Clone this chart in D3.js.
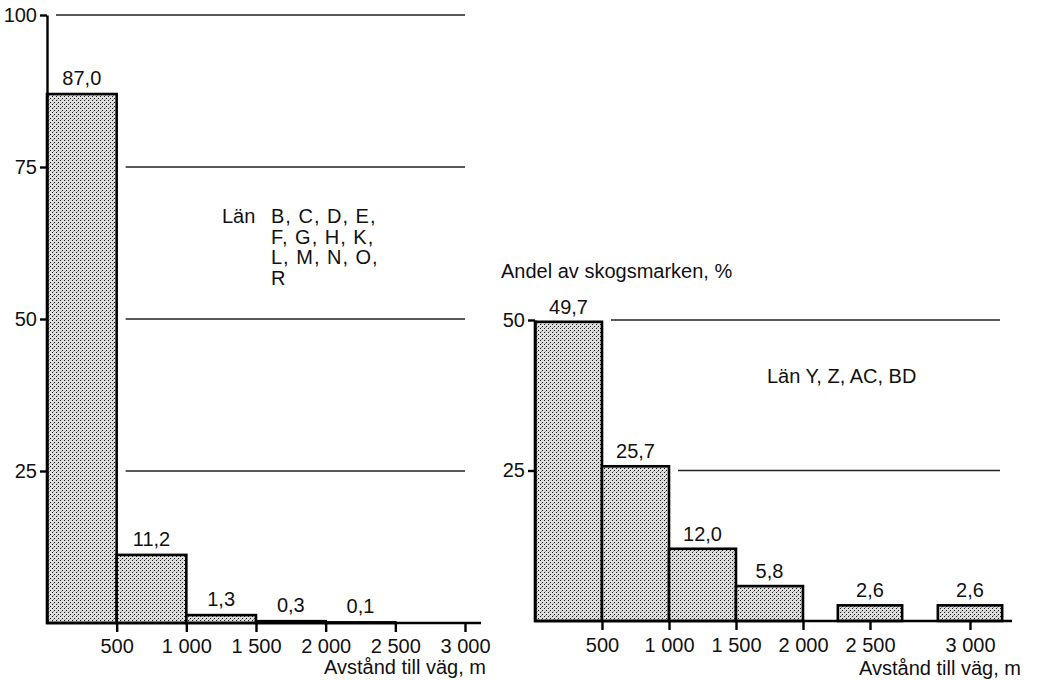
<!DOCTYPE html>
<html><head><meta charset="utf-8">
<script src="https://cdn.jsdelivr.net/npm/d3@7"></script>
<style>
body{margin:0;background:#fff}
text{font-family:"Liberation Sans",Arial,Helvetica,sans-serif;font-size:20px;fill:#111}
</style>
</head><body>
<svg id="c" width="1049" height="680"></svg>
<script>
// ---------- data ----------
const leftBinEnds   = [500, 1000, 1500, 2000, 2500];
const leftValues    = [87.0, 11.2, 1.3, 0.3, 0.1];
const leftTicksX    = [500, 1000, 1500, 2000, 2500, 3000];
const leftTicksY    = [25, 50, 75, 100];
const leftNoteHead  = "Län";
const leftNoteLines = ["B, C, D, E,", "F, G, H, K,", "L, M, N, O,", "R"];

const rightCategories = [500, 1000, 1500, 2000, 2500, 3000];
const rightValues     = [49.7, 25.7, 12.0, 5.8, 2.6, 2.6];
const rightCentered   = [false, false, false, false, true, true];
const rightTicksX     = [500, 1000, 1500, 2000, 2500, 3000];
const rightTicksY     = [25, 50];
const rightNote       = "Län Y, Z, AC, BD";

const yTitle = "Andel av skogsmarken, %";
const xTitle = "Avstånd till väg, m";

// ---------- setup ----------
const svg = d3.select("#c");
const loc = d3.formatLocale({decimal: ",", thousands: " ", grouping: [3], currency: ["", ""]});
const fmtVal = loc.format(".1f");
const fmtTick = loc.format(",d");
const FS = 20;

const defs = svg.append("defs");
const pat = defs.append("pattern").attr("id", "stip")
  .attr("width", 4).attr("height", 4).attr("patternUnits", "userSpaceOnUse");
pat.append("rect").attr("width", 4).attr("height", 4).attr("fill", "#dedede");
pat.append("rect").attr("x", 0).attr("y", 0).attr("width", 1).attr("height", 1).attr("fill", "#1a1a1a");
pat.append("rect").attr("x", 2).attr("y", 2).attr("width", 1).attr("height", 1).attr("fill", "#1a1a1a");
pat.append("rect").attr("x", 1).attr("y", 3).attr("width", 1).attr("height", 1).attr("fill", "#9a9a9a");

function styleAxis(g) {
  g.selectAll("line").attr("stroke", "#000").attr("stroke-width", 2.4);
  g.selectAll("path").attr("stroke", "#000").attr("stroke-width", 2.4);
  g.selectAll("text").attr("font-size", FS).attr("fill", "#111")
    .attr("font-family", '"Liberation Sans",Arial,sans-serif');
}

// ---------- left chart ----------
const xL = d3.scaleLinear().domain([0, 3000]).range([47, 465]);
const yL = d3.scaleLinear().domain([0, 100]).range([623, 15]);
const gL = svg.append("g");

leftTicksY.forEach(v => {
  let idx = -1;
  leftValues.forEach((d, i) => { if (d >= v - 1) idx = i; });
  const x0 = idx < 0 ? xL(0) + 9 : xL(leftBinEnds[idx]) + 9;
  gL.append("line").attr("x1", x0).attr("x2", xL(3000))
    .attr("y1", yL(v)).attr("y2", yL(v))
    .attr("stroke", "#222").attr("stroke-width", 1.3);
});

gL.selectAll("rect.bar").data(leftValues).join("rect").attr("class", "bar")
  .attr("x", (d, i) => xL(leftBinEnds[i] - 500))
  .attr("width", (d, i) => xL(leftBinEnds[i]) - xL(leftBinEnds[i] - 500))
  .attr("y", d => yL(d))
  .attr("height", d => yL(0) - yL(d))
  .attr("fill", "url(#stip)").attr("stroke", "#000").attr("stroke-width", 2.6);

gL.selectAll("text.val").data(leftValues).join("text").attr("class", "val")
  .attr("x", (d, i) => (xL(leftBinEnds[i] - 500) + xL(leftBinEnds[i])) / 2)
  .attr("y", d => yL(d) - 9)
  .attr("text-anchor", "middle").text(d => fmtVal(d));

const axL = gL.append("g").attr("transform", `translate(${xL(0)},0)`)
  .call(d3.axisLeft(yL).tickValues(leftTicksY).tickSize(7).tickSizeOuter(0).tickPadding(3));
styleAxis(axL);

const axLB = gL.append("g").attr("transform", `translate(0,${yL(0)})`)
  .call(d3.axisBottom(xL).tickValues(leftTicksX).tickSize(9).tickPadding(7).tickFormat(fmtTick));
axLB.select(".domain").remove();
styleAxis(axLB);
gL.append("line").attr("x1", xL(0) - 1).attr("x2", xL(3000) + 16)
  .attr("y1", yL(0)).attr("y2", yL(0)).attr("stroke", "#000").attr("stroke-width", 2.6);

gL.append("text").attr("x", 486).attr("y", 674).attr("text-anchor", "end").text(xTitle);

gL.append("text").attr("x", 222).attr("y", 223).attr("font-size", 18).text(leftNoteHead);
gL.selectAll("text.note").data(leftNoteLines).join("text").attr("class", "note")
  .attr("x", 271).attr("y", (d, i) => 223 + i * 20.5)
  .attr("font-size", 16).attr("letter-spacing", 1).text(d => d);

// ---------- right chart ----------
const xR = d3.scaleLinear().domain([0, 2500, 3000]).range([535, 870, 970]);
const yR = d3.scaleLinear().domain([0, 50]).range([621, 320]);
const gR = svg.append("g");
const step = xR(500) - xR(0);

function barX0(i) {
  const c = rightCategories[i];
  return rightCentered[i] ? xR(c) - step * 0.48 : xR(c - 500);
}
function barX1(i) {
  const c = rightCategories[i];
  return rightCentered[i] ? xR(c) + step * 0.48 : xR(c);
}

rightTicksY.forEach(v => {
  let idx = -1;
  rightValues.forEach((d, i) => { if (d >= v - 1) idx = i; });
  const x0 = idx < 0 ? xR(0) + 9 : barX1(idx) + 9;
  gR.append("line").attr("x1", x0).attr("x2", xR(3000) + 30)
    .attr("y1", yR(v)).attr("y2", yR(v))
    .attr("stroke", "#222").attr("stroke-width", 1.3);
});

gR.selectAll("rect.bar").data(rightValues).join("rect").attr("class", "bar")
  .attr("x", (d, i) => barX0(i))
  .attr("width", (d, i) => barX1(i) - barX0(i))
  .attr("y", d => yR(d))
  .attr("height", d => yR(0) - yR(d))
  .attr("fill", "url(#stip)").attr("stroke", "#000").attr("stroke-width", 2.6);

gR.selectAll("text.val").data(rightValues).join("text").attr("class", "val")
  .attr("x", (d, i) => (barX0(i) + barX1(i)) / 2)
  .attr("y", d => yR(d) - 8)
  .attr("text-anchor", "middle").text(d => fmtVal(d));

const axR = gR.append("g").attr("transform", `translate(${xR(0)},0)`)
  .call(d3.axisLeft(yR).tickValues(rightTicksY).tickSize(7).tickSizeOuter(0).tickPadding(3));
styleAxis(axR);

const axRB = gR.append("g").attr("transform", `translate(0,${yR(0)})`)
  .call(d3.axisBottom(xR).tickValues(rightTicksX).tickSize(9).tickPadding(8).tickFormat(fmtTick));
axRB.select(".domain").remove();
styleAxis(axRB);
gR.append("line").attr("x1", xR(0) - 1).attr("x2", xR(3000) + 42)
  .attr("y1", yR(0)).attr("y2", yR(0)).attr("stroke", "#000").attr("stroke-width", 2.6);

gR.append("text").attr("x", 1021).attr("y", 675).attr("text-anchor", "end").text(xTitle);
gR.append("text").attr("x", 501).attr("y", 278).text(yTitle);
gR.append("text").attr("x", 767).attr("y", 383).attr("font-size", 19).text(rightNote);
</script>
</body></html>
